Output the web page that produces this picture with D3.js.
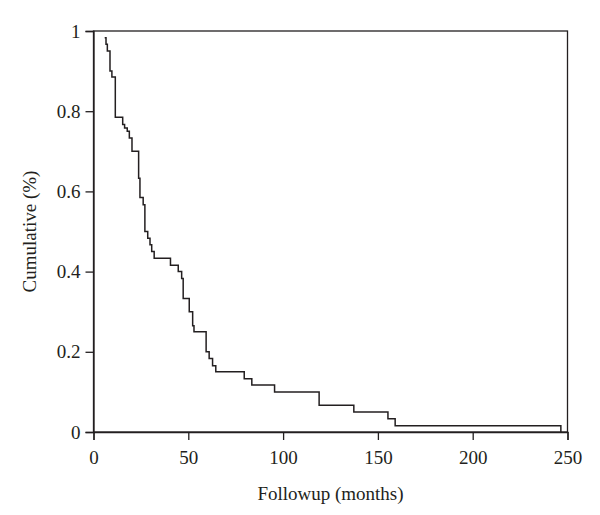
<!DOCTYPE html>
<html>
<head>
<meta charset="utf-8">
<script src="https://cdn.jsdelivr.net/npm/d3@7"></script>
<style>
  body { margin: 0; background: #fff; }
  text { font-family: "Liberation Serif", "DejaVu Serif", serif; fill: #231f20; }
</style>
</head>
<body>
<svg width="600" height="515"></svg>
<script>
// step points: followup time (months) and cumulative value after the step
const months = [5.9, 6.6, 7.3, 8.7, 9.7, 11.5, 15.4, 16.4, 17.8, 18.9, 20.3, 23.8, 24.5, 26.2, 27.1,
  28.6, 29.8, 30.7, 32.0, 40.6, 44.7, 46.5, 47.3, 50.5, 52.3, 53.0, 59.4, 61.0, 62.8, 64.5,
  79.5, 83.5, 95.5, 119.0, 137.3, 155.3, 159.1, 246.5]
const cumulative = [0.983, 0.967, 0.95, 0.90, 0.885, 0.785, 0.767, 0.758, 0.75, 0.733, 0.70, 0.633, 0.585, 0.567, 0.50,
  0.483, 0.467, 0.45, 0.433, 0.416, 0.40, 0.383, 0.333, 0.30, 0.265, 0.25, 0.20, 0.183, 0.165, 0.15,
  0.133, 0.117, 0.10, 0.067, 0.05, 0.033, 0.0155, 0]
const xTicks = [0, 50, 100, 150, 200, 250]
const yTicks = [0, 0.2, 0.4, 0.6, 0.8, 1]

const svg = d3.select("svg"),
margin = {top: 31, right: 32.5, bottom: 83, left: 93.5},
width = +svg.attr("width") - margin.left - margin.right,
height = +svg.attr("height") - margin.top - margin.bottom

const x = d3.scaleLinear().domain([0, 250]).range([0, width])
const y = d3.scaleLinear().domain([0, 1]).range([height, 0])

const g = svg.append("g")
.attr("transform", `translate(${margin.left}, ${margin.top})`)

// frame
g.append("rect")
.attr("width", width)
.attr("height", height)
.attr("fill", "none")
.attr("stroke", "#231f20")
.attr("stroke-width", 1.3)

const xAxis = g.append("g")
.attr("transform", `translate(0, ${height})`)
.call(d3.axisBottom(x).tickValues(xTicks).tickSize(8).tickPadding(11).tickFormat(d3.format("d")))

const yAxis = g.append("g")
.call(d3.axisLeft(y).tickValues(yTicks).tickSize(8).tickPadding(5).tickFormat(d => d))

for (const ax of [xAxis, yAxis]) {
  ax.select(".domain").attr("stroke", "#231f20").attr("stroke-width", 1.3)
  ax.selectAll(".tick line").attr("stroke", "#231f20").attr("stroke-width", 1.3)
  ax.selectAll(".tick text").style("font-family", "Liberation Serif, serif").style("font-size", "19px").attr("fill", "#231f20")
}

const pts = months.map((m, i) => [m, cumulative[i]])

g.append("path")
.datum(pts)
.attr("fill", "none")
.attr("stroke", "#231f20")
.attr("stroke-width", 1.5)
.attr("d", d3.line().x(d => x(d[0])).y(d => y(d[1])).curve(d3.curveStepAfter))

g.append("text")
.attr("x", width / 2)
.attr("y", height + 68)
.attr("text-anchor", "middle")
.style("font-size", "19px")
.text("Followup (months)")

g.append("text")
.attr("transform", "rotate(-90)")
.attr("x", -height / 2)
.attr("y", -58)
.attr("text-anchor", "middle")
.style("font-size", "19px")
.text("Cumulative (%)")
</script>
</body>
</html>
